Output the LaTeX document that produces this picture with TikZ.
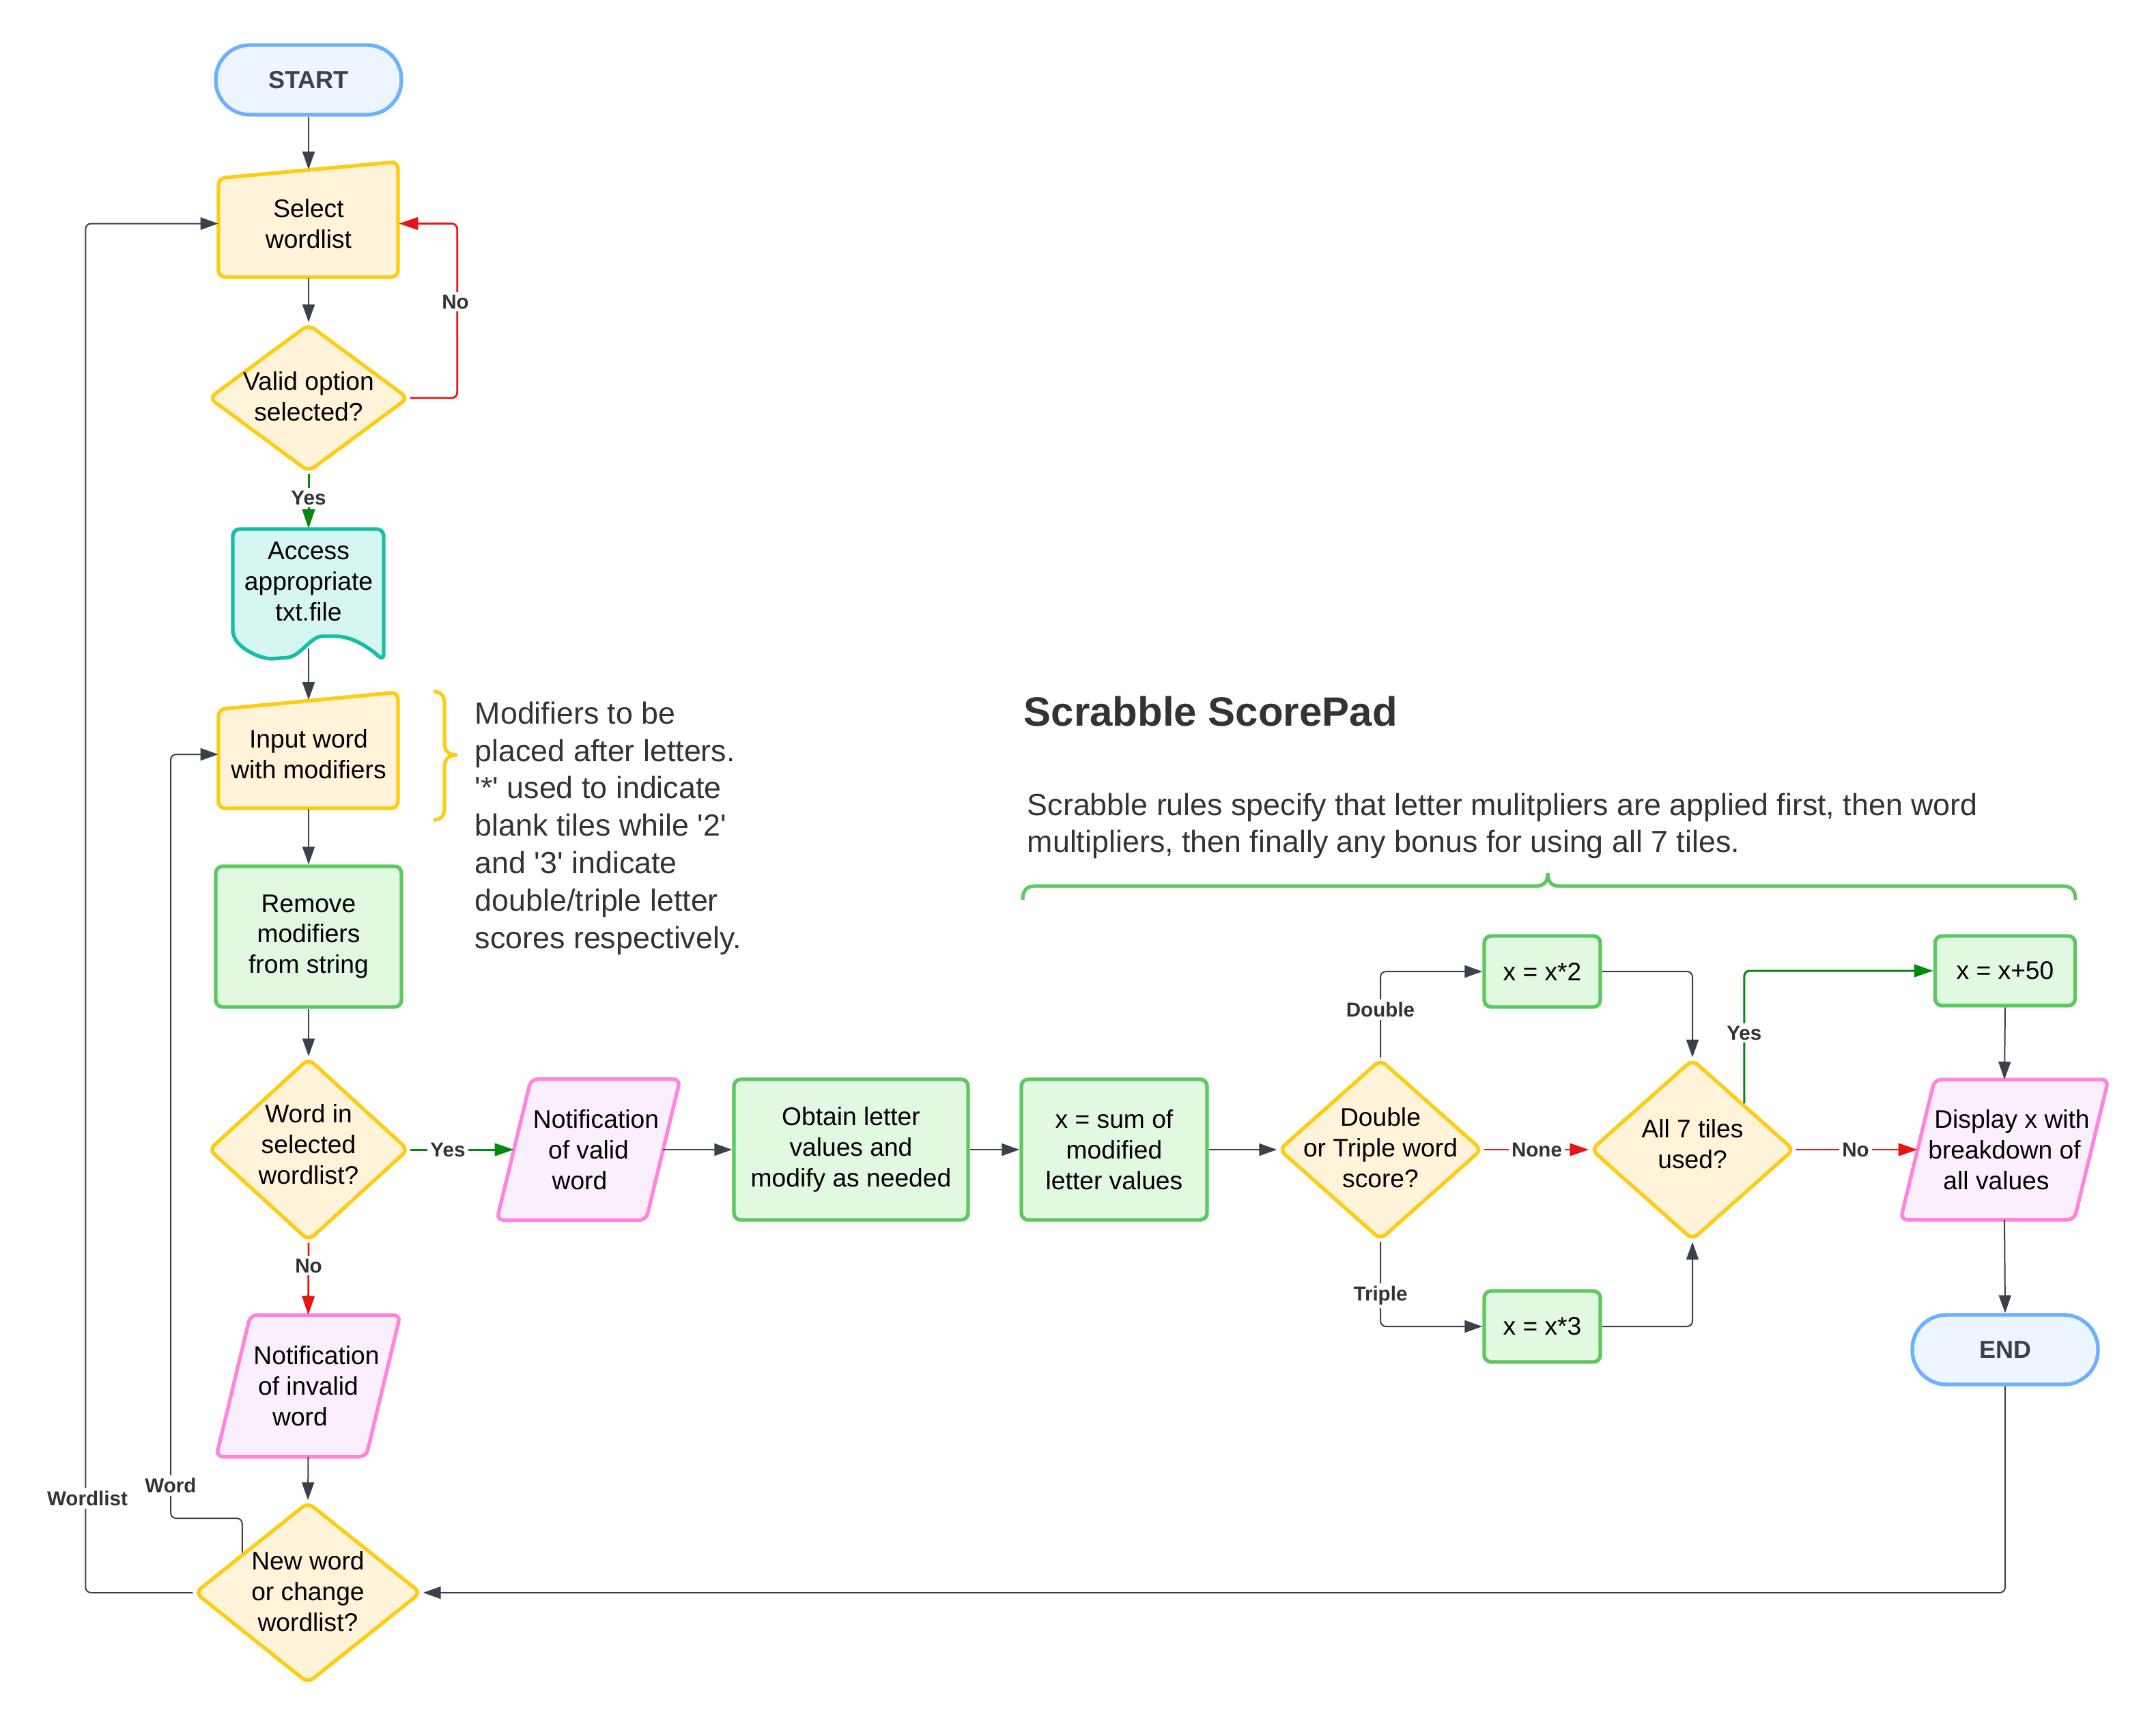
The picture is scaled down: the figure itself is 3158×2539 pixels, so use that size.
\documentclass[tikz,border=0pt]{standalone}
\usepackage{fontspec}
\setmainfont{Liberation Sans}
\usetikzlibrary{shapes.geometric,arrows.meta,calc}
\pgfdeclarelayer{bg}
\pgfsetlayers{bg,main}
\definecolor{ylS}{HTML}{FFCC14}
\definecolor{ylF}{HTML}{FFF3DA}
\definecolor{grS}{HTML}{5CC860}
\definecolor{grF}{HTML}{E2F9E1}
\definecolor{pkS}{HTML}{FF84DE}
\definecolor{pkF}{HTML}{FBEEFD}
\definecolor{tlS}{HTML}{14BFA6}
\definecolor{tlF}{HTML}{D6F7F1}
\definecolor{blS}{HTML}{6CB0FF}
\definecolor{blF}{HTML}{EDF5FF}
\definecolor{lnG}{HTML}{3A414A}
\definecolor{lnR}{HTML}{E81313}
\definecolor{lnV}{HTML}{008A0E}
\definecolor{txG}{HTML}{333333}
\begin{document}
\begin{tikzpicture}[x=0.25pt,y=-0.25pt,
  txt/.style={font=\fontsize{9.3pt}{11.2pt}\selectfont, align=center, text=black},
  shp/.style={line width=1.35pt, rounded corners=2.5pt},
  pill/.style={draw=blS, fill=blF, line width=1.35pt, rounded corners=12.5pt,
    minimum width=68pt, minimum height=25.5pt, inner sep=0pt,
    font=\bfseries\fontsize{9pt}{11pt}\selectfont, text=lnG},
  gbox/.style={txt, draw=grS, fill=grF, shp, inner sep=0pt},
  dia/.style={shape=diamond, draw=ylS, fill=ylF, shp, inner sep=0pt},
  ghost/.style={txt, inner sep=0pt},
  conn/.style={draw=lnG, line width=0.5pt, rounded corners=2pt,
    -{Triangle[length=6.5pt,width=4.5pt]}},
  connR/.style={draw=lnR, line width=0.7pt, rounded corners=2pt,
    -{Triangle[length=7pt,width=4.6pt]}},
  connV/.style={draw=lnV, line width=0.75pt, rounded corners=2pt,
    -{Triangle[length=7pt,width=4.6pt]}},
  lab/.style={font=\bfseries\fontsize{7.4pt}{9pt}\selectfont, text=txG, fill=white, inner sep=1pt},
  note/.style={font=\fontsize{11.2pt}{13.7pt}\selectfont, text=txG, align=left, inner sep=0pt}
]
\useasboundingbox (0,0) rectangle (3158,2539);

% ---------- left column ----------
\node[pill] (start) at (452,117) {START};
\node[ghost, minimum width=65.75pt, minimum height=39.25pt] (sel) at (452,327.5) {Select\\wordlist};
\node[dia, minimum width=73.25pt, minimum height=54.25pt] (vo) at (452,583) {};
\node[ghost] (vot) at (452,581) {Valid option\\selected?};
\node[ghost, minimum width=55.25pt, minimum height=48pt] (acc) at (452,871) {};
\node[ghost] (acct) at (452,852) {Access\\appropriate\\txt.file};
\coordinate (accB) at (452,950);
\node[ghost, minimum width=65.75pt, minimum height=39.5pt] (inp) at (452,1105) {Input word\\with modifiers};
\node[gbox, minimum width=68pt, minimum height=51.5pt] (rm) at (452,1372) {Remove\\modifiers\\from string};
\node[dia, minimum width=73.25pt, minimum height=67pt] (wd) at (452,1684) {};
\node[ghost] (wdt) at (452,1676) {Word in\\selected\\wordlist?};
\node[ghost, minimum width=54.5pt, minimum height=51.5pt] (ni) at (451.5,2030) {\hspace*{6pt}Notification\\of invalid\\word\hspace*{6pt}};
\node[dia, minimum width=83pt, minimum height=66.5pt] (nw) at (451,2333) {};
\node[ghost] (nwt) at (451,2331) {New word\\or change\\wordlist?};

% ---------- main row ----------
\node[ghost, minimum width=54.25pt, minimum height=51.25pt] (nv) at (862,1684) {\hspace*{5.5pt}Notification\\of valid\\word\hspace*{6.5pt}};
\node[gbox, minimum width=85.75pt, minimum height=51.5pt] (ob) at (1246.5,1684) {Obtain letter\\values and\\modify as needed};
\node[gbox, minimum width=68pt, minimum height=51.5pt] (xs) at (1632,1684) {x = sum of\\modified\\letter values};
\node[dia, minimum width=74.5pt, minimum height=66.25pt] (dt) at (2022,1684) {};
\node[ghost] (dtt) at (2022,1681) {Double\\or Triple word\\score?};
\node[gbox, minimum width=42.5pt, minimum height=26pt] (x2) at (2259,1423) {x = x*2};
\node[gbox, minimum width=42.5pt, minimum height=26pt] (x3) at (2259,1943) {x = x*3};
\node[dia, minimum width=74.5pt, minimum height=66.25pt] (a7) at (2479,1684) {};
\node[ghost] (a7t) at (2479,1676) {All 7 tiles\\used?};
\node[gbox, minimum width=51.25pt, minimum height=25.5pt] (x50) at (2937,1422) {x = x+50};
\node[ghost, minimum width=63.25pt, minimum height=51pt] (dx) at (2936,1684) {\hspace*{5.5pt}Display x with\\breakdown of\\all values\hspace*{6pt}};
\node[pill] (end) at (2937,1977) {END};

% ---------- custom shapes ----------
\begin{pgfonlayer}{bg}
  \draw[shp, draw=ylS, fill=ylF] (320,261) -- (583,237) -- (583,406) -- (320,406) -- cycle;
  \draw[shp, draw=ylS, fill=ylF] (320,1039) -- (583,1014) -- (583,1184) -- (320,1184) -- cycle;
  \draw[shp, draw=tlS, fill=tlF] (341,933) -- (341,775) -- (562,775) -- (562,968)
     .. controls (540,948) and (515,932) .. (482,932)
     .. controls (455,932) and (440,962) .. (410,964)
     .. controls (385,966) and (360,955) .. (341,933) -- cycle;
  \foreach \n in {nv,ni,dx}{
    \draw[shp, draw=pkS, fill=pkF] ([xshift=6.25pt]\n.north west) -- ([xshift=6.25pt]\n.north east)
      -- ([xshift=-6.25pt]\n.south east) -- ([xshift=-6.25pt]\n.south west) -- cycle;
  }
\end{pgfonlayer}

% ---------- braces ----------
\draw[ylS, line width=1.3pt] (635,1013) .. controls (646,1013) and (651,1019) .. (651,1031)
  -- (651,1088) .. controls (651,1100) and (657,1106) .. (670,1106)
  .. controls (657,1106) and (651,1112) .. (651,1124)
  -- (651,1183) .. controls (651,1195) and (646,1201) .. (635,1201);
\draw[grS, line width=1.3pt] (1498,1318) .. controls (1498,1304) and (1504,1298) .. (1516,1298)
  -- (2250,1298) .. controls (2261,1298) and (2267,1292) .. (2267,1279)
  .. controls (2267,1292) and (2273,1298) .. (2284,1298)
  -- (3022,1298) .. controls (3034,1298) and (3040,1304) .. (3040,1318);

% ---------- notes ----------
\node[anchor=base west, inner sep=0pt, font=\bfseries\fontsize{15pt}{18pt}\selectfont, text=txG] (title) at (1499,1063) {Scrabble ScorePad};
\node[note, anchor=north west, font=\fontsize{11.2pt}{13.5pt}\selectfont] (rules) at (1504,1161) {Scrabble rules specify that letter mulitpliers are applied first, then word\\multipliers, then finally any bonus for using all 7 tiles.};
\node[note, anchor=north west] (mods) at (695,1027) {Modifiers to be\\placed after letters.\\\textquotesingle*\textquotesingle{} used to indicate\\blank tiles while \textquotesingle2\textquotesingle\\and \textquotesingle3\textquotesingle{} indicate\\double/triple letter\\scores respectively.};

% ---------- connectors ----------
\draw[conn] (start.south) -- (sel.north);
\draw[conn] (sel.south) -- (vo.north);
\draw[connR] (vo.east) -- ++(68.5,0) |- (sel.east);
\draw[connV] (vo.south) -- (acc.north);
\draw[conn] (accB) -- (inp.north);
\draw[conn] (inp.south) -- (rm.north);
\draw[conn] (rm.south) -- (wd.north);
\draw[connV] (wd.east) -- (nv.west);
\draw[connR] (wd.south) -- (ni.north);
\draw[conn] (ni.south) -- (nw.north);
\draw[conn] (nv.east) -- (ob.west);
\draw[conn] (ob.east) -- (xs.west);
\draw[conn] (xs.east) -- (dt.west);
\draw[conn] (dt.north) |- (x2.west);
\draw[conn] (dt.south) |- (x3.west);
\draw[connR] (dt.east) -- (a7.west);
\draw[conn] (x2.east) -| (a7.north);
\draw[conn] (x3.east) -| (a7.south);
\coordinate (a7ne) at ($(a7.north)!0.5!(a7.east)$);
\draw[connV] (a7ne) |- (x50.west);
\draw[connR] (a7.east) -- (dx.west);
\draw[conn] (x50.south) -- (dx.north);
\draw[conn] (dx.south) -- (end.north);
\draw[conn] (end.south) |- (nw.east);
\draw[conn] (nw.west) -- ++(-157,0) |- (sel.west);
\coordinate (nwUL) at ($(nw.north)!0.57!(nw.west)$);
\draw[conn] (nwUL) |- (250,2224) |- (inp.west);

% ---------- labels ----------
\node[lab] (lNo1) at (667,442) {No};
\node[lab] (lYes1) at (452,729) {Yes};
\node[lab] (lYes2) at (656,1684) {Yes};
\node[lab] (lNo2) at (452,1854) {No};
\node[lab] (lDbl) at (2022,1479) {Double};
\node[lab] (lTrp) at (2022,1898) {Triple};
\node[lab] (lNone) at (2251,1684) {None};
\node[lab] (lYes3) at (a7ne |- 0,1513) {Yes};
\node[lab] (lNo3) at (2718,1684) {No};
\node[lab] (lWl) at (128,2195) {Wordlist};
\node[lab] (lWd) at (250,2176) {Word};
\end{tikzpicture}
\end{document}
